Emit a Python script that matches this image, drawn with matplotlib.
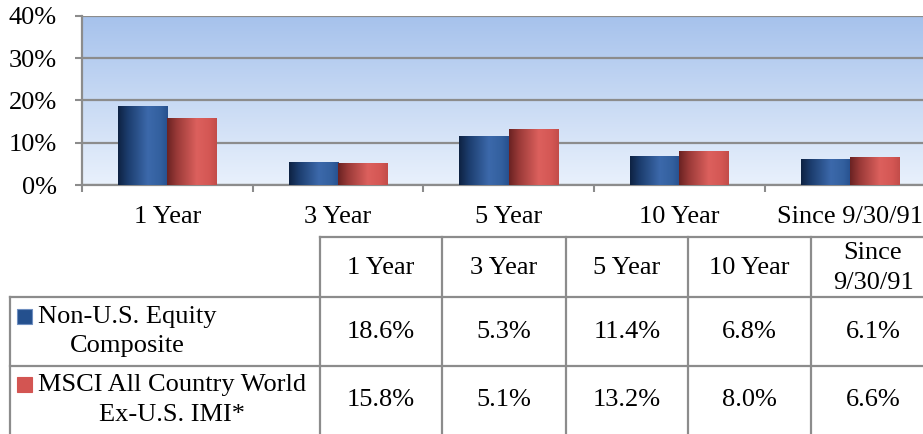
import matplotlib
matplotlib.use("Agg")
import matplotlib.pyplot as plt
import numpy as np
from matplotlib.colors import LinearSegmentedColormap
from matplotlib.lines import Line2D
from matplotlib.patches import Rectangle

plt.rcParams['font.family'] = ['Liberation Serif', 'DejaVu Serif']

categories = ['1 Year', '3 Year', '5 Year', '10 Year', 'Since 9/30/91']
table_headers = ['1 Year', '3 Year', '5 Year', '10 Year', 'Since\n9/30/91']
series_names = ['Non-U.S. Equity\nComposite', 'MSCI All Country World\nEx-U.S. IMI*']
composite = [18.6, 5.3, 11.4, 6.8, 6.1]
msci_imi = [15.8, 5.1, 13.2, 8.0, 6.6]
y_ticks = [0, 10, 20, 30, 40]

blue_cmap = LinearSegmentedColormap.from_list(
    'blue_bar', [(0, '#0e2242'), (0.2, '#1c3d6e'), (0.6, '#3c69ab'), (0.85, '#33609f'), (1, '#26508e')])
red_cmap = LinearSegmentedColormap.from_list(
    'red_bar', [(0, '#6a2222'), (0.2, '#9a3a38'), (0.6, '#dc605d'), (0.85, '#d45754'), (1, '#c24c49')])
bg_cmap = LinearSegmentedColormap.from_list('bg', ['#e9f1fc', '#a6c2ec'])
grid_col = '#8c8c8c'
fs = 19

W, H = 923, 434
fig = plt.figure(figsize=(W / 100, H / 100), dpi=100)
ax = fig.add_axes([82 / W, 1 - 185 / H, 853.5 / W, 169 / H])
ax.patch.set_alpha(0)

# background gradient
ax.imshow(np.linspace(0, 1, 256).reshape(-1, 1)[::-1], extent=[0, 1, 0, 1],
          transform=ax.transAxes, cmap=bg_cmap, aspect='auto', zorder=0)

x = np.arange(len(categories))
w = 0.29
grad = np.linspace(0, 1, 256).reshape(1, -1)
for vals, off, cmap in [(composite, -w / 2, blue_cmap), (msci_imi, w / 2, red_cmap)]:
    bars = ax.bar(x + off, vals, w, color='none', zorder=3)
    for b in bars:
        x0, y0, bw, bh = b.get_x(), b.get_y(), b.get_width(), b.get_height()
        ax.imshow(grad, extent=[x0, x0 + bw, y0, y0 + bh], cmap=cmap, aspect='auto', zorder=3)

ax.set_xlim(-0.5, len(categories) - 0.5)
ax.set_ylim(0, 40)
ax.set_yticks(y_ticks)
ax.set_yticklabels([f'{t}%' for t in y_ticks], fontsize=fs)
ax.yaxis.grid(True, color=grid_col, linewidth=1.6, zorder=1)
ax.set_axisbelow(True)
ax.set_xticks(x)
ax.set_xticklabels(categories, fontsize=fs)
ax.set_xticks(np.arange(len(categories) + 1) - 0.5, minor=True)
ax.tick_params(axis='x', which='major', length=0, pad=15)
ax.tick_params(axis='x', which='minor', length=5, width=1.5, color=grid_col)
ax.tick_params(axis='y', length=5, width=1.5, color=grid_col, pad=13)
for s in ['top', 'right']:
    ax.spines[s].set_visible(False)
for s in ['left', 'bottom']:
    ax.spines[s].set_color(grid_col)
    ax.spines[s].set_linewidth(1.6)

# data table below the chart, in pixel coordinates
tab = fig.add_axes([0, 0, 1, 1])
tab.set_xlim(0, W)
tab.set_ylim(H, 0)
tab.axis('off')
col_x = [10, 320, 442, 566, 688, 811, 935]
row_y = [237, 297, 366, 440]
lw = 1.6
tab.add_line(Line2D([col_x[1], W + 5], [row_y[0]] * 2, color=grid_col, lw=lw))
for yy in row_y[1:3]:
    tab.add_line(Line2D([col_x[0], W + 5], [yy] * 2, color=grid_col, lw=lw))
tab.add_line(Line2D([col_x[0]] * 2, [row_y[1], H + 5], color=grid_col, lw=lw))
for xx in col_x[1:6]:
    tab.add_line(Line2D([xx] * 2, [row_y[0], H + 5], color=grid_col, lw=lw))

for i, hdr in enumerate(table_headers):
    cx = (col_x[i + 1] + col_x[i + 2]) / 2
    tab.text(cx, (row_y[0] + row_y[1]) / 2 + 1, hdr, fontsize=fs, ha='center', va='center',
             multialignment='center', linespacing=1.45)

marker_cols = ['#24508e', '#d35552']
for r, (name, vals) in enumerate(zip(series_names, [composite, msci_imi])):
    cy = (row_y[r + 1] + row_y[r + 2]) / 2
    if r == 1:
        cy = (row_y[2] + H) / 2
    tab.add_patch(Rectangle((17, cy - 23), 15, 15, facecolor=marker_cols[r],
                            edgecolor='#6f8fc0' if r == 0 else marker_cols[r], lw=0.8))
    tab.text(38, cy, name, fontsize=fs, ha='left', va='center', multialignment='center',
             linespacing=1.45)
    for i, v in enumerate(vals):
        cx = (col_x[i + 1] + col_x[i + 2]) / 2
        tab.text(cx, cy, f'{v:.1f}%', fontsize=fs, ha='center', va='center')

fig.savefig('out.png', dpi=100)
